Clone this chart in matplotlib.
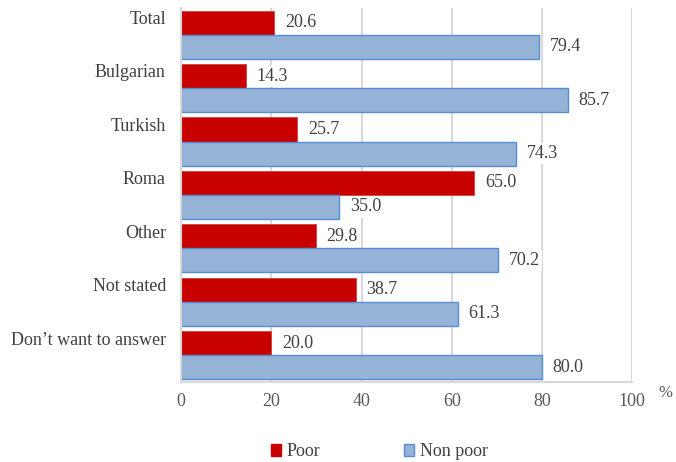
import matplotlib
matplotlib.use("Agg")
import matplotlib.pyplot as plt
from matplotlib.patches import Patch
import numpy as np

categories = ["Total", "Bulgarian", "Turkish", "Roma", "Other", "Not stated", "Don\u2019t want to answer"]
poor = [20.6, 14.3, 25.7, 65.0, 29.8, 38.7, 20.0]
non_poor = [79.4, 85.7, 74.3, 35.0, 70.2, 61.3, 80.0]
xticks = [0, 20, 40, 60, 80, 100]

plt.rcParams['font.family'] = ['Liberation Serif', 'DejaVu Serif']

fig = plt.figure(figsize=(6.76, 4.62), dpi=100)
ax = fig.add_axes([0.268, 0.173, 0.667, 0.81])

y = np.arange(len(categories))
h = 0.45
red = "#C80000"
blue = "#95B3D7"
blue_edge = "#558ED5"
txt = "#404040"
fs = 13

ax.barh(y - h/2, poor, height=h, color=red, edgecolor="#D04040", linewidth=0.6, zorder=2)
ax.barh(y + h/2, non_poor, height=h, color=blue, edgecolor=blue_edge, linewidth=1.0, zorder=2)

for yi, v in zip(y, poor):
    ax.text(v + 2.4, yi - h/2, f"{v:.1f}", va="center", ha="left", fontsize=fs, color=txt,
            bbox=dict(facecolor="white", edgecolor="none", pad=1.5), zorder=3)
for yi, v in zip(y, non_poor):
    ax.text(v + 2.4, yi + h/2, f"{v:.1f}", va="center", ha="left", fontsize=fs, color=txt,
            bbox=dict(facecolor="white", edgecolor="none", pad=1.5), zorder=3)

ax.set_xlim(0, 100)
ax.set_ylim(len(categories) - 0.5, -0.5)
ax.set_xticks(xticks)
ax.set_xticklabels([str(t) for t in xticks], fontsize=fs, color="#595959")
ax.set_yticks(y - 0.32)
ax.set_yticklabels(categories, fontsize=fs, color=txt)
ax.tick_params(axis="y", length=0, pad=11)
ax.tick_params(axis="x", length=0, pad=8)
ax.grid(axis="x", color="#D9D9D9", linewidth=1.5, zorder=0)
ax.set_axisbelow(True)
for s in ["top", "right"]:
    ax.spines[s].set_visible(False)
for s in ["left", "bottom"]:
    ax.spines[s].set_color("#D9D9D9")
    ax.spines[s].set_linewidth(1.5)

fig.text(665/676, 1 - 393/462, "%", fontsize=12, color="#595959", ha="center", va="center")

handles = [Patch(facecolor=red, edgecolor=red), Patch(facecolor=blue, edgecolor=blue_edge)]
fig.legend(handles, ["Poor", "Non poor"], loc="center", bbox_to_anchor=(0.561, 1 - 452/462),
           ncol=2, frameon=False, fontsize=fs, handlelength=0.6, handleheight=0.6,
           handletextpad=0.3, columnspacing=4.6, labelcolor=txt)

fig.savefig("out.png", dpi=100)
